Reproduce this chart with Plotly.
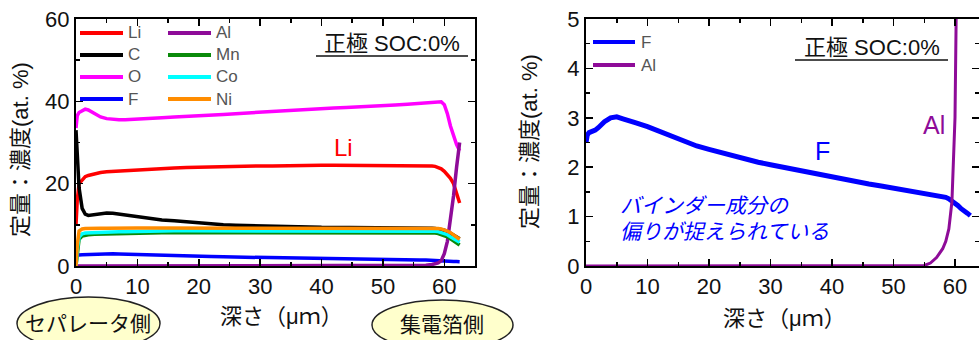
import plotly.graph_objects as go

# ---------------- data ----------------
depth = [0, 0.2, 0.5, 1, 1.5, 2, 3, 4, 5, 6, 7, 8, 10, 12, 14, 16, 18, 20, 22, 24,
         26, 28, 30, 32, 34, 36, 38, 40, 42, 44, 46, 48, 50, 52, 54, 55, 56, 57, 58, 58.5,
         59, 59.5, 60, 60.5, 61, 61.5, 62, 62.5]

li = [10, 16, 20, 21, 21.7, 22, 22.4, 22.7, 22.9, 23, 23.1, 23.2, 23.4, 23.6, 23.7, 23.8, 23.9, 24, 24.1, 24.1,
      24.2, 24.2, 24.3, 24.3, 24.4, 24.4, 24.4, 24.5, 24.5, 24.5, 24.5, 24.5, 24.5, 24.5, 24.5, 24.5, 24.5, 24.4, 24.3, 24.2,
      24.0, 23.6, 23.0, 22.2, 21.3, 20.0, 17.5, 15.3]

c = [33, 27, 19, 14, 12.6, 12.3, 12.5, 12.8, 12.9, 12.8, 12.6, 12.3, 11.9, 11.5, 11.2, 11.0, 10.7, 10.4, 10.2, 10.0,
     9.9, 9.8, 9.7, 9.6, 9.6, 9.5, 9.5, 9.4, 9.4, 9.3, 9.3, 9.3, 9.3, 9.3, 9.3, 9.3, 9.3, 9.3, 9.2, 9.1,
     9.0, 8.9, 8.7, 8.4, 8.0, 7.5, 7.0, 6.6]

o = [33.5, 36.5, 37.3, 37.8, 38.1, 37.9, 37.0, 36.2, 35.8, 35.6, 35.5, 35.5, 35.6, 35.8, 36.0, 36.2, 36.3, 36.5, 36.7, 36.8,
     37.0, 37.2, 37.4, 37.6, 37.8, 38.0, 38.1, 38.2, 38.4, 38.5, 38.6, 38.8, 38.9, 39.1, 39.3, 39.4, 39.5, 39.6, 39.7, 39.8,
     39.9, 39.9, 39.2, 37.0, 34.0, 31.5, 29.5, 28.0]

f = [2.5, 2.65, 2.7, 2.72, 2.75, 2.8, 2.92, 3.0, 3.02, 2.98, 2.93, 2.9, 2.82, 2.72, 2.63, 2.53, 2.43, 2.36, 2.29, 2.22,
     2.16, 2.1, 2.05, 2.0, 1.95, 1.9, 1.84, 1.79, 1.74, 1.7, 1.66, 1.62, 1.58, 1.54, 1.5, 1.48, 1.46, 1.44, 1.41, 1.39,
     1.36, 1.32, 1.28, 1.22, 1.16, 1.1, 1.07, 1.02]

al = [0, 0, 0, 0, 0, 0, 0, 0, 0, 0, 0, 0, 0, 0, 0, 0, 0, 0, 0, 0,
      0, 0, 0, 0, 0, 0, 0, 0, 0, 0, 0, 0, 0, 0, 0, 0.01, 0.06, 0.17, 0.35, 0.5,
      0.75, 1.3, 3.0, 6.0, 11.0, 17.0, 24.0, 30.0]

mn = [0, 3.5, 6.5, 7.3, 7.5, 7.6, 7.7, 7.75, 7.8, 7.85, 7.9, 7.9, 8.0, 8.0, 8.05, 8.1, 8.1, 8.1, 8.2, 8.2,
      8.2, 8.2, 8.2, 8.2, 8.2, 8.2, 8.2, 8.2, 8.2, 8.2, 8.2, 8.2, 8.2, 8.2, 8.2, 8.2, 8.2, 8.2, 8.1, 8.0,
      7.9, 7.7, 7.5, 7.1, 6.6, 6.1, 5.6, 5.1]

co = [0, 4.0, 7.0, 7.8, 8.0, 8.05, 8.15, 8.2, 8.25, 8.3, 8.35, 8.35, 8.45, 8.45, 8.5, 8.55, 8.55, 8.55, 8.65, 8.65,
      8.65, 8.65, 8.65, 8.65, 8.65, 8.65, 8.65, 8.65, 8.65, 8.65, 8.65, 8.65, 8.65, 8.65, 8.65, 8.65, 8.65, 8.65, 8.55, 8.45,
      8.35, 8.15, 7.95, 7.6, 7.1, 6.6, 6.2, 5.8]

ni = [0, 5.0, 8.5, 9.0, 9.1, 9.15, 9.2, 9.2, 9.2, 9.25, 9.25, 9.25, 9.25, 9.25, 9.25, 9.3, 9.3, 9.3, 9.3, 9.3,
      9.3, 9.3, 9.3, 9.3, 9.3, 9.3, 9.3, 9.3, 9.3, 9.3, 9.3, 9.3, 9.3, 9.3, 9.3, 9.3, 9.3, 9.25, 9.2, 9.15,
      9.1, 9.0, 8.8, 8.5, 8.1, 7.6, 7.0, 6.5]

left_series = [("Li", li, "#FF0000"), ("C", c, "#000000"), ("O", o, "#FF00FF"), ("F", f, "#0000FF"),
               ("Al", al, "#8E0B98"), ("Mn", mn, "#0A8A0A"), ("Co", co, "#00FFFF"), ("Ni", ni, "#FF8C00")]
right_series = [("F", f, "#0000FF", 5), ("Al", al, "#8E0B98", 3)]

x_ticks = [0, 10, 20, 30, 40, 50, 60]
title_text = "正極 SOC:0%"
ytitle_text = "定量：濃度(at. %)"
xtitle_text = "深さ（μｍ）"
note_lines = ["バインダー成分の", "偏りが捉えられている"]

# ---------------- figure ----------------
W, H = 979, 340
def px(x):
    return x / W
def py(y):
    return 1 - y / H

FONT = "Liberation Sans, Arial, Noto Sans CJK JP"

fig = go.Figure()
for name, vals, col in left_series:
    fig.add_trace(go.Scatter(x=depth, y=vals, mode="lines", name=name,
                             line=dict(color=col, width=3.5), showlegend=False,
                             hoverinfo="skip", xaxis="x", yaxis="y"))
for name, vals, col, w in right_series:
    fig.add_trace(go.Scatter(x=depth, y=vals, mode="lines", name=name,
                             line=dict(color=col, width=w), showlegend=False,
                             hoverinfo="skip", xaxis="x2", yaxis="y2"))

axis_common = dict(showgrid=False, zeroline=False, showline=True, linecolor="black",
                   linewidth=2, mirror="allticks", ticks="inside", ticklen=7,
                   tickwidth=1.5, tickcolor="black", automargin=False,
                   tickfont=dict(family=FONT, size=22, color="#111"))

fig.update_layout(
    width=W, height=H, margin=dict(l=0, r=0, t=0, b=0, autoexpand=False),
    paper_bgcolor="white", plot_bgcolor="white", showlegend=False,
    xaxis=dict(domain=[px(76), px(475)], range=[0, 65], tickvals=x_ticks,
               minor=dict(dtick=5, ticks="inside", ticklen=4, tickcolor="black"),
               anchor="y", **axis_common),
    yaxis=dict(domain=[py(266), py(19)], range=[0, 60], dtick=20,
               minor=dict(dtick=10, ticks="inside", ticklen=4, tickcolor="black"),
               anchor="x", **axis_common),
    xaxis2=dict(domain=[px(586), 1.0], range=[0, (W - 586) / 6.15], tickvals=x_ticks,
                minor=dict(dtick=5, ticks="inside", ticklen=4, tickcolor="black"),
                anchor="y2", **axis_common),
    yaxis2=dict(domain=[py(266), py(19)], range=[0, 5], dtick=1,
                minor=dict(dtick=0.5, ticks="inside", ticklen=4, tickcolor="black"),
                anchor="x2", **axis_common),
)

shapes = []
annos = []

def text(x, y, s, size, color="#111", **kw):
    annos.append(dict(x=px(x), y=py(y), xref="paper", yref="paper", text=s, showarrow=False,
                      font=dict(family=FONT, size=size, color=color), **kw))

# legends (left)
leg_left = [("Li", "#FF0000", 80, 33), ("C", "#000000", 80, 55), ("O", "#FF00FF", 80, 77),
            ("F", "#0000FF", 80, 99), ("Al", "#8E0B98", 168, 33), ("Mn", "#0A8A0A", 168, 55),
            ("Co", "#00FFFF", 168, 77), ("Ni", "#FF8C00", 168, 99)]
for name, col, x0, y0 in leg_left:
    shapes.append(dict(type="line", xref="paper", yref="paper", x0=px(x0), x1=px(x0 + 43),
                       y0=py(y0), y1=py(y0), line=dict(color=col, width=4)))
    text(x0 + 46, y0, name, 17, "#555", xanchor="left", yanchor="middle")
# legends (right)
for (name, vals, col, w), y0 in zip(right_series, [42, 65]):
    shapes.append(dict(type="line", xref="paper", yref="paper", x0=px(593), x1=px(635),
                       y0=py(y0), y1=py(y0), line=dict(color=col, width=4)))
    text(639, y0, name, 17, "#555", xanchor="left", yanchor="middle")

# titles with underline
text(392, 43, title_text, 22, "#111", xanchor="center", yanchor="middle")
shapes.append(dict(type="line", xref="paper", yref="paper", x0=px(316), x1=px(468),
                   y0=py(56), y1=py(56), line=dict(color="#111", width=1.5)))
text(872, 48, title_text, 22, "#111", xanchor="center", yanchor="middle")
shapes.append(dict(type="line", xref="paper", yref="paper", x0=px(795), x1=px(948),
                   y0=py(60), y1=py(60), line=dict(color="#111", width=1.5)))

# axis titles
text(20, 150, ytitle_text, 22, "#111", textangle=-90, xanchor="center", yanchor="middle")
text(529, 142, ytitle_text, 22, "#111", textangle=-90, xanchor="center", yanchor="middle")
text(281, 316, xtitle_text, 22, "#111", xanchor="center", yanchor="middle")
text(784, 318, xtitle_text, 22, "#111", xanchor="center", yanchor="middle")

# series labels
text(343, 147, "Li", 24, "#FF0000", xanchor="center", yanchor="middle")
text(822, 151, "F", 25, "#0000FF", xanchor="center", yanchor="middle")
text(934, 125, "Al", 25, "#8E0B98", xanchor="center", yanchor="middle")

# blue italic note
text(618, 205, "<i>" + note_lines[0] + "</i>", 21, "#0000FF", xanchor="left", yanchor="middle")
text(618, 231, "<i>" + note_lines[1] + "</i>", 21, "#0000FF", xanchor="left", yanchor="middle")

# ellipses at the bottom
shapes.append(dict(type="circle", xref="paper", yref="paper", x0=px(17), x1=px(160),
                   y0=py(350), y1=py(297), fillcolor="#FFFFCC", line=dict(color="#222", width=1.5),
                   layer="below"))
text(88, 323, "セパレータ側", 21, "#111", xanchor="center", yanchor="middle")
shapes.append(dict(type="circle", xref="paper", yref="paper", x0=px(372), x1=px(513),
                   y0=py(350), y1=py(300), fillcolor="#FFFFCC", line=dict(color="#222", width=1.5),
                   layer="below"))
text(442, 324, "集電箔側", 21, "#111", xanchor="center", yanchor="middle")

fig.update_layout(shapes=shapes, annotations=annos)
fig.write_html("out.html", config={"displayModeBar": False, "staticPlot": True},
               post_script="document.body.style.margin='0';document.body.style.overflow='hidden';")
